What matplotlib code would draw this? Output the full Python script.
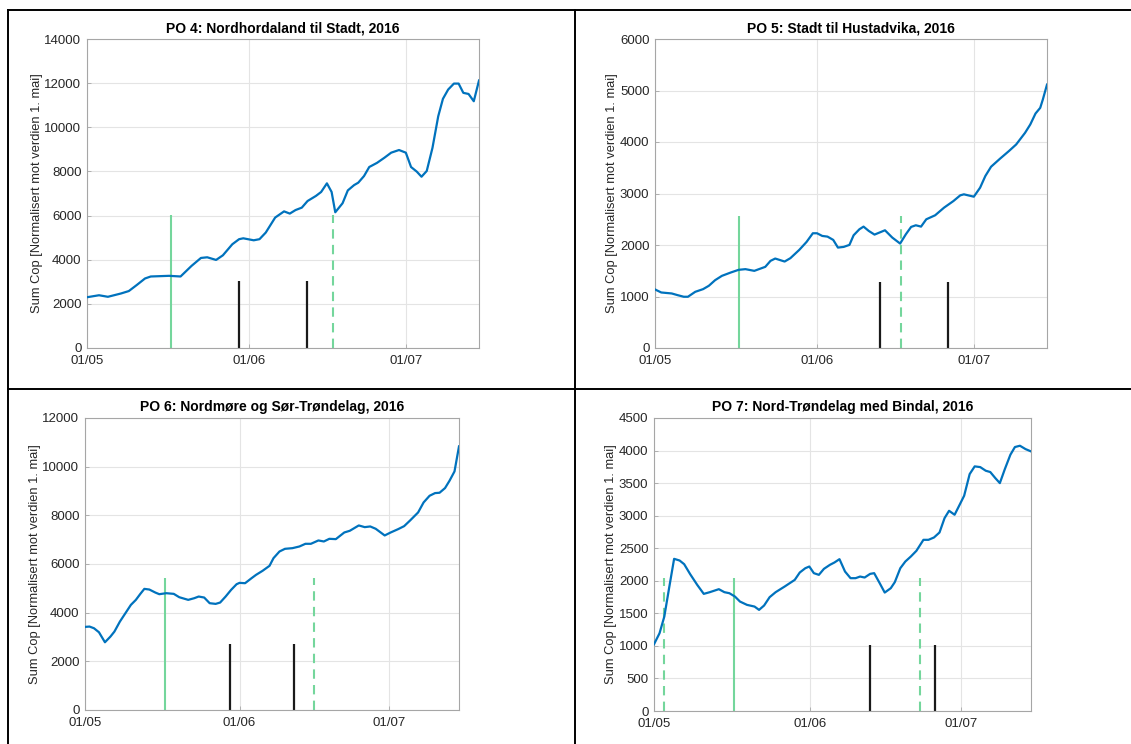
import numpy as np
import pandas as pd
import matplotlib
matplotlib.use("Agg")
import matplotlib.pyplot as plt
import matplotlib.dates as mdates
from matplotlib.lines import Line2D

# --- data (days after 1 May 2016, value) ---
po4_days = [0, 2.3, 4, 6.5, 8, 9.5, 11.1, 12.2, 15.7, 17.9, 20, 21.8, 23, 24.7, 26, 27.8,
            29.1, 29.9, 31.9, 33, 34.2, 36, 37.7, 38.8, 39.9, 41.1, 42.2, 43.8, 44.8, 45.9,
            46.8, 47.5, 48.9, 49.9, 51.1, 51.9, 53, 54, 55.5, 56.9, 58.2, 59.7, 61, 62, 63.1,
            64, 65, 66.1, 67.2, 68.1, 69.1, 70.2, 71.1, 72, 73, 74, 75]
po4_vals = [2300, 2390, 2320, 2470, 2580, 2850, 3150, 3240, 3270, 3240, 3720, 4080, 4110, 3990,
            4200, 4700, 4930, 4970, 4880, 4930, 5230, 5910, 6190, 6090, 6250, 6360, 6660, 6890,
            7070, 7460, 7070, 6150, 6560, 7140, 7380, 7490, 7790, 8200, 8390, 8620, 8850, 8970,
            8850, 8200, 7990, 7760, 8020, 9070, 10500, 11290, 11710, 11980, 11980, 11560, 11510,
            11180, 12120]

po5_days = [0, 1.2, 3.2, 4.3, 5.5, 6.3, 7.7, 9.2, 10.3, 11.5, 12.8, 14.5, 16, 17.3, 19, 21.1,
            22.1, 23, 24.8, 25.9, 27.6, 29, 30.2, 31, 32, 33, 34.1, 35, 36.1, 37.2, 38, 39.1,
            39.9, 40.9, 42, 44, 45.4, 46.9, 48, 49, 49.9, 50.9, 51.9, 53.6, 55.3, 57.1, 58.4,
            59.1, 61, 62.2, 63.2, 64.3, 66, 67.7, 69.1, 70.8, 71.8, 72.8, 73.7, 74.2, 75]
po5_vals = [1137, 1078, 1059, 1027, 995, 995, 1091, 1143, 1208, 1317, 1401, 1466, 1518, 1531,
            1498, 1576, 1692, 1737, 1679, 1744, 1905, 2060, 2228, 2228, 2176, 2163, 2099, 1950,
            1963, 2002, 2189, 2305, 2357, 2273, 2202, 2286, 2144, 2028, 2209, 2351, 2383, 2357,
            2499, 2577, 2725, 2854, 2964, 2984, 2938, 3113, 3339, 3520, 3675, 3823, 3952, 4178,
            4340, 4553, 4663, 4824, 5115]

po6_days = [0, 0.9, 1.8, 2.8, 4, 5.1, 5.9, 7, 8.1, 9.2, 10.2, 11.1, 11.9, 12.9, 14.1, 14.9,
            16.3, 17.8, 18.9, 20.7, 21.9, 22.8, 23.9, 25, 26.2, 27.1, 28.2, 29.3, 30.4, 31,
            32.1, 33.4, 34.3, 35.6, 37, 37.8, 39, 40.1, 41.6, 43, 44.2, 45.3, 46.8, 47.9, 49,
            50.3, 52, 53.1, 54.9, 56.1, 57.2, 58.3, 60.1, 61.3, 62.8, 64, 65.2, 66.8, 67.9,
            69.1, 70.2, 71.1, 72.2, 73.1, 74.1, 75]
po6_vals = [3415, 3429, 3360, 3195, 2784, 3017, 3223, 3634, 3977, 4320, 4526, 4773, 4978, 4951,
            4827, 4759, 4800, 4773, 4635, 4526, 4594, 4663, 4622, 4389, 4361, 4416, 4663, 4937,
            5170, 5225, 5211, 5417, 5554, 5719, 5925, 6240, 6514, 6624, 6651, 6720, 6830, 6830,
            6967, 6926, 7035, 7022, 7296, 7365, 7584, 7515, 7543, 7447, 7173, 7296, 7433, 7556,
            7790, 8119, 8530, 8804, 8914, 8928, 9120, 9422, 9805, 10834]

po7_days = [0, 1.1, 2.05, 3, 4, 5.1, 6, 7.2, 8.6, 9.9, 11.1, 12.9, 14, 15, 16.1, 17.1, 18.5,
            20, 20.9, 21.9, 23, 24.2, 26, 28, 29, 30.1, 30.9, 31.8, 32.8, 33.8, 35, 35.9, 36.9,
            38, 39.1, 40.1, 41, 41.9, 43, 43.8, 44.9, 45.9, 47.1, 47.9, 49, 50, 51.1, 52.2,
            53.6, 54.6, 55.7, 56.8, 57.8, 58.7, 59.8, 60.8, 61.7, 62.8, 63.8, 64.9, 66, 66.9,
            67.9, 68.8, 69.8, 70.9, 71.8, 72.8, 73.9, 75]
po7_vals = [1025, 1194, 1450, 1886, 2337, 2311, 2255, 2101, 1937, 1799, 1825, 1871, 1825, 1809,
            1758, 1681, 1630, 1604, 1553, 1620, 1748, 1825, 1912, 2014, 2127, 2193, 2219, 2117,
            2091, 2183, 2245, 2281, 2332, 2142, 2040, 2040, 2065, 2050, 2106, 2117, 1963, 1819,
            1886, 1978, 2193, 2296, 2373, 2460, 2629, 2629, 2665, 2742, 2962, 3075, 3014, 3167,
            3306, 3639, 3757, 3746, 3690, 3670, 3577, 3500, 3716, 3936, 4054, 4074, 4023, 3987]

# event markers (days after 1 May) and their heights
po4_green_solid, po4_green_dashed, po4_black = [16], [47], [29, 42]
po4_green_h, po4_black_h = 6030, 3015
po5_green_solid, po5_green_dashed, po5_black = [16], [47], [43, 56]
po5_green_h, po5_black_h = 2560, 1280
po6_green_solid, po6_green_dashed, po6_black = [16], [46], [29, 42]
po6_green_h, po6_black_h = 5420, 2710
po7_green_solid, po7_green_dashed, po7_black = [16], [2, 53], [43, 56]
po7_green_h, po7_black_h = 2040, 1020

titles = ["PO 4: Nordhordaland til Stadt, 2016",
          "PO 5: Stadt til Hustadvika, 2016",
          "PO 6: Nordmøre og Sør-Trøndelag, 2016",
          "PO 7: Nord-Trøndelag med Bindal, 2016"]
ylims = [14000, 6000, 12000, 4500]
ysteps = [2000, 1000, 2000, 500]
ylabel = "Sum Cop [Normalisert mot verdien 1. mai]"

START = pd.Timestamp("2016-05-01")
W, H = 1131, 744


def to_dates(days):
    return START + pd.to_timedelta(days, unit="D")


def px_axes(fig, l, r, t, b):
    return fig.add_axes([l / W, 1 - b / H, (r - l) / W, (b - t) / H])


plt.rcParams["font.family"] = ["Liberation Sans", "DejaVu Sans"]
fig = plt.figure(figsize=(W / 100, H / 100), dpi=100)

# table borders
border = dict(color="black", lw=1.4, transform=fig.transFigure)
fig.add_artist(Line2D([8 / W, 1], [1 - 10 / H] * 2, **border))
fig.add_artist(Line2D([8 / W, 1], [1 - 389 / H] * 2, **border))
fig.add_artist(Line2D([8 / W] * 2, [0, 1 - 10 / H], **border))
fig.add_artist(Line2D([575 / W] * 2, [0, 1 - 10 / H], **border))

boxes = [(87, 479, 39, 348), (655, 1047, 39, 348), (85, 459, 418, 710), (654, 1031, 418, 711)]
panels = [
    (po4_days, po4_vals, po4_green_solid, po4_green_dashed, po4_black, po4_green_h, po4_black_h),
    (po5_days, po5_vals, po5_green_solid, po5_green_dashed, po5_black, po5_green_h, po5_black_h),
    (po6_days, po6_vals, po6_green_solid, po6_green_dashed, po6_black, po6_green_h, po6_black_h),
    (po7_days, po7_vals, po7_green_solid, po7_green_dashed, po7_black, po7_green_h, po7_black_h),
]

blue, green, dark, axcol = "#0072BD", "#74d69c", "#1a1a1a", "#262626"

for i, (box, p) in enumerate(zip(boxes, panels)):
    days, vals, gs, gd, bl, gh, bh = p
    ax = px_axes(fig, *box)
    ax.plot(to_dates(days), vals, color=blue, lw=1.6, zorder=3)
    ax.vlines(to_dates(gs), 0, gh, color=green, lw=1.5, zorder=2)
    ax.vlines(to_dates(gd), 0, gh, color=green, lw=1.5, linestyles=(0, (4.5, 3)), zorder=2)
    ax.vlines(to_dates(bl), 0, bh, color=dark, lw=1.6, zorder=2)

    ax.set_xlim(START, START + pd.Timedelta(days=75))
    ax.set_ylim(0, ylims[i])
    ax.set_yticks(np.arange(0, ylims[i] + 1, ysteps[i]))
    ax.xaxis.set_major_locator(mdates.MonthLocator())
    ax.xaxis.set_major_formatter(mdates.DateFormatter("%d/%m"))
    ax.grid(True, color="#e4e4e4", lw=0.8)
    ax.set_axisbelow(True)
    for s in ax.spines.values():
        s.set_color("#a6a6a6")
        s.set_linewidth(0.8)
    ax.tick_params(direction="in", length=3, width=0.6, color="#a6a6a6",
                   labelsize=9.5, labelcolor=axcol)
    ax.tick_params(axis="x", pad=5)
    ax.tick_params(axis="y", pad=4)
    ax.set_title(titles[i], fontsize=10, fontweight="bold", color="black", pad=5)
    ax.set_ylabel(ylabel, fontsize=9.3, color=axcol, labelpad=1)

fig.savefig("out.png", dpi=100)
